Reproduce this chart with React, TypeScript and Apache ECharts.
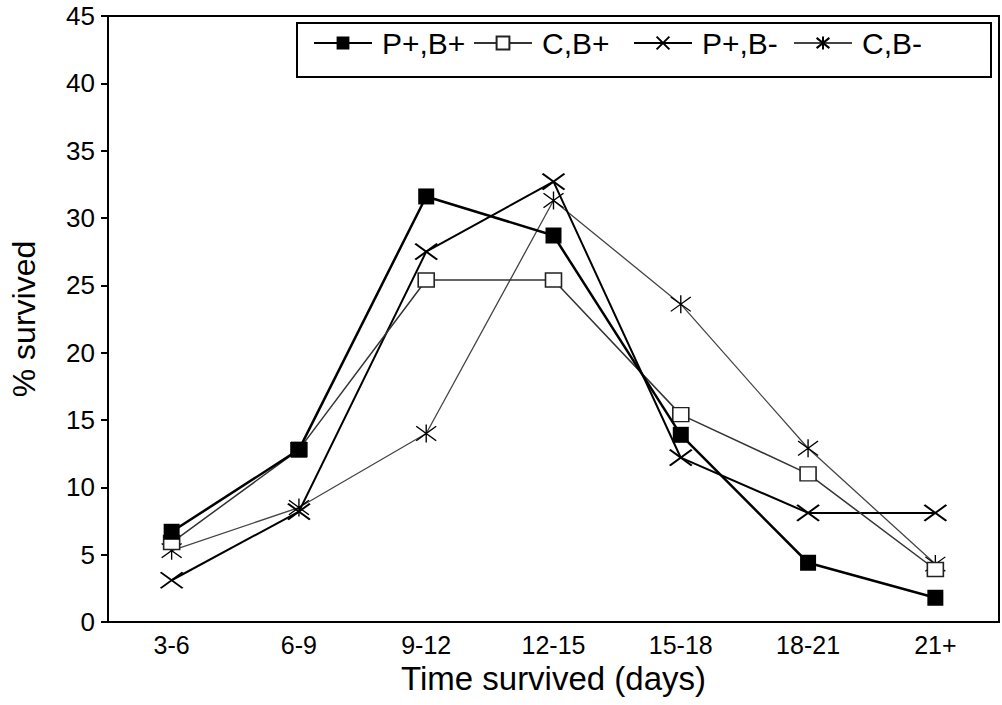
import React, { useEffect, useRef } from "react";
import * as echarts from "echarts";

const categories = ["3-6", "6-9", "9-12", "12-15", "15-18", "18-21", "21+"];
const seriesNames = ["P+,B+", "C,B+", "P+,B-", "C,B-"];
const pPlusBPlus = [6.7, 12.8, 31.6, 28.7, 13.9, 4.4, 1.8];
const cBPlus = [5.9, 12.8, 25.4, 25.4, 15.4, 11.0, 3.9];
const pPlusBMinus = [3.1, 8.2, 27.5, 32.7, 12.2, 8.1, 8.1];
const cBMinus = [5.3, 8.5, 14.0, 31.3, 23.6, 12.9, 4.3];

const FONT = "'Liberation Sans', Arial, sans-serif";
const X_PATH = "path://M0,0 L10,10 M10,0 L0,10";
const AST_PATH = "path://M0,1 L10,9 M10,1 L0,9 M5,0 L5,10";
const legendLefts = [308, 468, 628, 788];

export default function App() {
  const ref = useRef<HTMLDivElement>(null);
  useEffect(() => {
    if (!ref.current) return;
    const chart = echarts.init(ref.current, null, { renderer: "svg" });
    chart.setOption({
      animation: false,
      backgroundColor: "#fff",
      textStyle: { fontFamily: FONT, color: "#000" },
      grid: {
        left: 102,
        right: 3,
        top: 16,
        bottom: 83,
        show: true,
        borderColor: "#000",
        borderWidth: 2,
        backgroundColor: "transparent",
      },
      graphic: [
        {
          type: "rect",
          z: 3,
          shape: { x: 297, y: 23, width: 694, height: 54 },
          style: { fill: "#fff", stroke: "#000", lineWidth: 2 },
        },
      ],
      legend: seriesNames.map((name, i) => ({
        z: 10,
        left: legendLefts[i],
        top: 23,
        itemWidth: 58,
        itemHeight: 16,
        textStyle: { fontFamily: FONT, fontSize: 30, color: "#000", padding: [0, 0, 0, 5] },
        data: [name],
      })),
      xAxis: {
        type: "category",
        data: categories,
        boundaryGap: true,
        axisLine: { lineStyle: { color: "#000", width: 2 } },
        axisTick: { alignWithLabel: true, length: 6, lineStyle: { color: "#000", width: 2 } },
        axisLabel: { fontFamily: FONT, fontSize: 25, color: "#000", margin: 10 },
        name: "Time survived (days)",
        nameLocation: "middle",
        nameGap: 38,
        nameTextStyle: { fontFamily: FONT, fontSize: 33, color: "#000" },
        splitLine: { show: false },
      },
      yAxis: {
        type: "value",
        min: 0,
        max: 45,
        interval: 5,
        axisLine: { show: true, lineStyle: { color: "#000", width: 2 } },
        axisTick: { show: true, length: 7, lineStyle: { color: "#000", width: 2 } },
        axisLabel: { fontFamily: FONT, fontSize: 26, color: "#000", margin: 13 },
        splitLine: { show: false },
        name: "% survived",
        nameLocation: "middle",
        nameRotate: 90,
        nameGap: 68,
        nameTextStyle: { fontFamily: FONT, fontSize: 32, color: "#000" },
      },
      series: [
        {
          name: seriesNames[0],
          type: "line",
          data: pPlusBPlus,
          symbol: "rect",
          symbolSize: 16,
          z: 5,
          lineStyle: { color: "#000", width: 2.5 },
          itemStyle: { color: "#000", borderColor: "#000", borderWidth: 0 },
        },
        {
          name: seriesNames[1],
          type: "line",
          data: cBPlus,
          symbol: "rect",
          symbolSize: [16, 14],
          z: 4,
          lineStyle: { color: "#333", width: 1.5 },
          itemStyle: { color: "#fff", borderColor: "#222", borderWidth: 1.5 },
        },
        {
          name: seriesNames[2],
          type: "line",
          data: pPlusBMinus,
          symbol: X_PATH,
          symbolSize: [22, 16],
          z: 3,
          lineStyle: { color: "#000", width: 2 },
          itemStyle: { color: "none", borderColor: "#000", borderWidth: 2 },
        },
        {
          name: seriesNames[3],
          type: "line",
          data: cBMinus,
          symbol: AST_PATH,
          symbolSize: [20, 18],
          z: 2,
          lineStyle: { color: "#444", width: 1.3 },
          itemStyle: { color: "none", borderColor: "#000", borderWidth: 1.3 },
        },
      ],
    });
    return () => chart.dispose();
  }, []);
  return (
    <div
      ref={ref}
      style={{ position: "fixed", left: 0, top: 0, width: 1002, height: 705, background: "#fff" }}
    />
  );
}
